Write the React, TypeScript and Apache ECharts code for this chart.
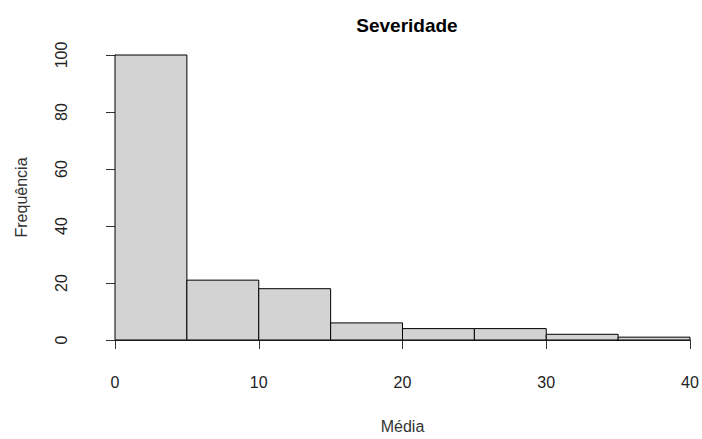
import React, { useEffect, useRef } from "react";
import * as echarts from "echarts";

const binStarts = [0, 5, 10, 15, 20, 25, 30, 35];
const binEnds = [5, 10, 15, 20, 25, 30, 35, 40];
const counts = [100, 21, 18, 6, 4, 4, 2, 1];
const xTicks = [0, 10, 20, 30, 40];
const yTicks = [0, 20, 40, 60, 80, 100];

export default function App() {
  const ref = useRef<HTMLDivElement>(null);
  useEffect(() => {
    if (!ref.current) return;
    const chart = echarts.init(ref.current, null, { renderer: "svg" });
    const data = binStarts.map((s, i) => [s, binEnds[i], counts[i]]);
    const font = "Liberation Sans, Arial, sans-serif";
    chart.setOption({
      animation: false,
      backgroundColor: "#ffffff",
      title: {
        text: "Severidade",
        left: 402,
        top: 11,
        textAlign: "center",
        textStyle: { fontFamily: font, fontSize: 19, fontWeight: "bold", color: "#000" },
      },
      grid: { left: 115, right: 12, top: 55, bottom: 93.3 },
      xAxis: {
        type: "value",
        min: xTicks[0],
        max: xTicks[xTicks.length - 1],
        interval: 10,
        offset: 12,
        name: "Média",
        nameLocation: "middle",
        nameGap: 66,
        nameTextStyle: { fontFamily: font, fontSize: 16, color: "#333" },
        axisLine: { show: true, lineStyle: { color: "#333", width: 1 } },
        axisTick: { show: true, length: 9, lineStyle: { color: "#333" } },
        axisLabel: { fontFamily: font, fontSize: 16, color: "#222", margin: 22 },
        splitLine: { show: false },
      },
      yAxis: {
        type: "value",
        min: yTicks[0],
        max: yTicks[yTicks.length - 1],
        interval: 20,
        offset: 23.3,
        name: "Frequência",
        nameLocation: "middle",
        nameGap: 62.5,
        nameRotate: 90,
        nameTextStyle: { fontFamily: font, fontSize: 16, color: "#333" },
        axisLine: { show: true, lineStyle: { color: "#333", width: 1 } },
        axisTick: { show: true, length: 9, lineStyle: { color: "#333" } },
        axisLabel: { fontFamily: font, fontSize: 16, color: "#222", rotate: 90, margin: 22 },
        splitLine: { show: false },
      },
      series: [
        {
          type: "custom",
          data,
          renderItem: (params: any, api: any) => {
            const s = api.value(0);
            const e = api.value(1);
            const c = api.value(2);
            const p0 = api.coord([s, c]);
            const p1 = api.coord([e, 0]);
            return {
              type: "rect",
              shape: { x: p0[0], y: p0[1], width: p1[0] - p0[0], height: p1[1] - p0[1] },
              style: { fill: "#d3d3d3", stroke: "#000", lineWidth: 1 },
            };
          },
          encode: { x: [0, 1], y: 2 },
        },
      ],
    });
    return () => chart.dispose();
  }, []);
  return <div ref={ref} style={{ width: 702, height: 439, position: "absolute", left: 0, top: 0 }} />;
}
